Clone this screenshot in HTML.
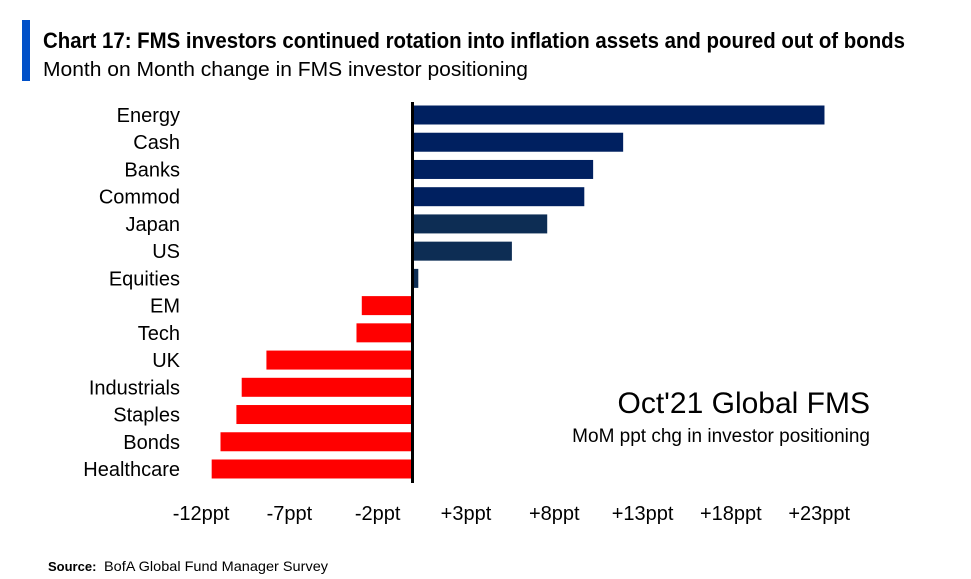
<!DOCTYPE html>
<html><head><meta charset="utf-8"><style>
body{margin:0;background:#fff;}
svg{display:block;font-family:"Liberation Sans Narrow","Liberation Sans",sans-serif;}
</style></head><body>
<svg id="chart" width="971" height="579" viewBox="0 0 971 579">
<rect x="22" y="20" width="8" height="61" fill="#0050c8"/>
<text x="43" y="48" font-size="22" font-weight="bold" fill="#000" textLength="862" lengthAdjust="spacingAndGlyphs">Chart 17: FMS investors continued rotation into inflation assets and poured out of bonds</text>
<text x="43" y="76" font-size="20" fill="#000" textLength="485" lengthAdjust="spacingAndGlyphs">Month on Month change in FMS investor positioning</text>
<g id="bars"></g>
<g id="xticks"></g>
<text x="870" y="413" font-size="30" text-anchor="end" fill="#000">Oct'21 Global FMS</text>
<text x="870" y="442" font-size="19" text-anchor="end" fill="#000">MoM ppt chg in investor positioning</text>
<text x="48" y="571" font-size="13" font-weight="bold" fill="#000">Source:</text>
<text x="104" y="571" font-size="14" fill="#000" textLength="224" lengthAdjust="spacingAndGlyphs">BofA Global Fund Manager Survey</text>
</svg>
<script>
const categories=["Energy","Cash","Banks","Commod","Japan","US","Equities","EM","Tech","UK","Industrials","Staples","Bonds","Healthcare"];
const values=[23.3,11.9,10.2,9.7,7.6,5.6,0.3,-2.9,-3.2,-8.3,-9.7,-10.0,-10.9,-11.4];
const tickValues=[-12,-7,-2,3,8,13,18,23];
const tickLabels=["-12ppt","-7ppt","-2ppt","+3ppt","+8ppt","+13ppt","+18ppt","+23ppt"];
const NS="http://www.w3.org/2000/svg";
const x0=413,pxPer=17.66;
function xs(v){return x0+v*pxPer;}
function yc(i){return 115+i*27.23;}
const gb=document.getElementById('bars');
categories.forEach((c,i)=>{
  const v=values[i];
  const r=document.createElementNS(NS,'rect');
  const a=xs(0),b=xs(v);
  r.setAttribute('x',Math.min(a,b));r.setAttribute('width',Math.abs(b-a));
  r.setAttribute('y',yc(i)-9.5);r.setAttribute('height',19);
  r.setAttribute('fill',v<0?'#ff0000':(i<4?'#002060':'#0d2d54'));
  
  
  gb.appendChild(r);
  const t=document.createElementNS(NS,'text');
  t.setAttribute('x',180);t.setAttribute('y',yc(i)+7);
  t.setAttribute('text-anchor','end');t.setAttribute('font-size','20');
  t.textContent=c;
  
  
  gb.appendChild(t);
});
const ax=document.createElementNS(NS,'rect');
ax.setAttribute('x',xs(0)-2);ax.setAttribute('y',102);ax.setAttribute('width',3);ax.setAttribute('height',381);ax.setAttribute('fill','#000');


gb.appendChild(ax);
const gx=document.getElementById('xticks');
tickValues.forEach((v,i)=>{
  const t=document.createElementNS(NS,'text');
  t.setAttribute('x',xs(v));t.setAttribute('y',520);
  t.setAttribute('text-anchor','middle');t.setAttribute('font-size','20');
  t.textContent=tickLabels[i];
  
  
  gx.appendChild(t);
});
</script>
</body></html>
